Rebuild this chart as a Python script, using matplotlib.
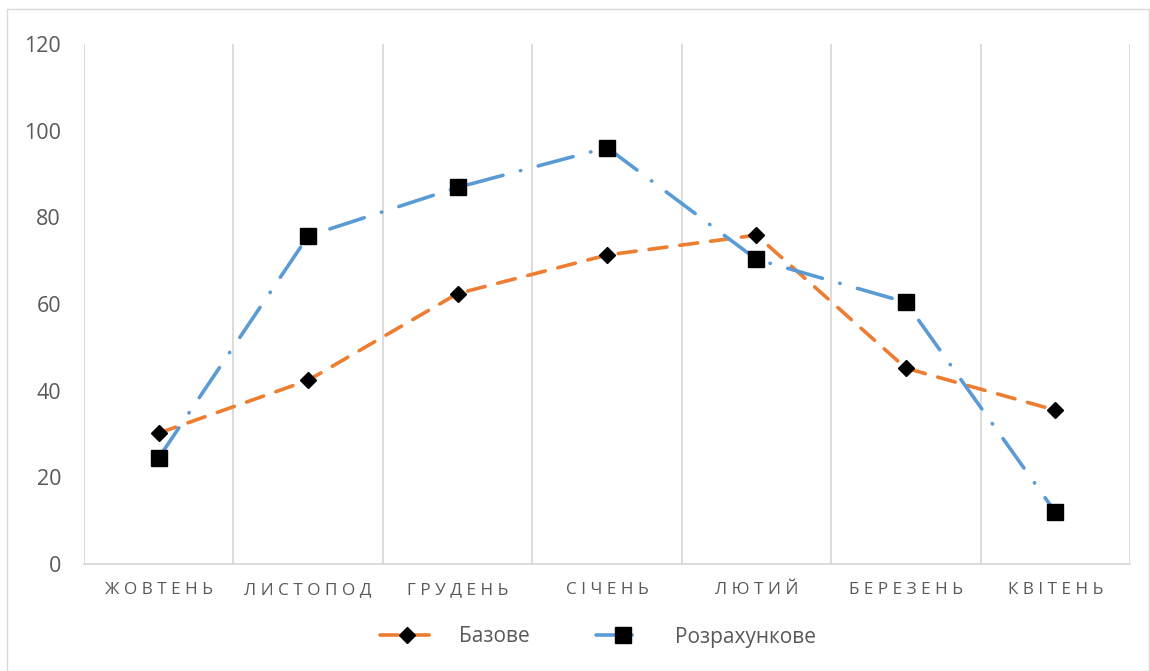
import numpy as np
import matplotlib
matplotlib.use("Agg")
import matplotlib.pyplot as plt
from matplotlib.patches import Rectangle
from matplotlib.lines import Line2D

plt.rcParams['font.family'] = ['Open Sans', 'DejaVu Sans']

months = ["ЖОВТЕНЬ", "ЛИСТОПОД", "ГРУДЕНЬ", "СІЧЕНЬ", "ЛЮТИЙ", "БЕРЕЗЕНЬ", "КВІТЕНЬ"]
bazove = [30.2, 42.4, 62.4, 71.3, 75.9, 45.2, 35.5]
rozrakh = [24.5, 75.7, 86.9, 96.1, 70.3, 60.4, 12.0]
y_ticks = [0, 20, 40, 60, 80, 100, 120]

ORANGE = "#ED7D31"
BLUE = "#5B9BD5"
TEXT = "#595959"
GRID = "#D9D9D9"

DASH = (0, (5.0, 3.6))
DASHDOT = (0, (10, 5, 0.1, 5))

fig = plt.figure(figsize=(11.5, 6.71), dpi=100)
fig.patches.append(Rectangle((7 / 1150, 0), 1 - 7 / 1150 - 1 / 1150, 1 - 9 / 671,
                             transform=fig.transFigure, fill=False,
                             edgecolor=GRID, linewidth=1.0))

ax = fig.add_axes([84 / 1150, 1 - 564 / 671, (1130 - 84) / 1150, (564 - 44) / 671])
x = np.arange(len(months))

# Orange series: dashed line with black diamonds
ax.plot(x, bazove, color=ORANGE, lw=2.6, linestyle=DASH,
        dash_capstyle='round', zorder=3)
ax.plot(x, bazove, linestyle='none', marker='D', markersize=8.5,
        color='black', zorder=5)

# Blue series: dash-dot line with black squares
ax.plot(x, rozrakh, color=BLUE, lw=2.6, linestyle=DASHDOT,
        dash_capstyle='round', zorder=4)
ax.plot(x, rozrakh, linestyle='none', marker='s', markersize=12,
        color='black', zorder=6)

ax.set_xlim(-0.5, len(months) - 0.5)
ax.set_ylim(0, 120)
ax.set_yticks(y_ticks)
ax.set_yticklabels([str(v) for v in y_ticks], fontsize=15.5, color=TEXT)
ax.set_xticks(x)
ax.set_xticklabels([" ".join(m) for m in months], fontsize=12.3, color=TEXT)
ax.tick_params(axis='both', length=0)
ax.tick_params(axis='y', pad=16.5)
ax.tick_params(axis='x', pad=13)

for b in np.arange(-0.5, len(months), 1.0):
    ax.axvline(b, color=GRID, lw=1.3, zorder=1)
for s in ['top', 'right', 'left']:
    ax.spines[s].set_visible(False)
ax.spines['bottom'].set_color(GRID)
ax.spines['bottom'].set_linewidth(1.3)

h1 = Line2D([], [], color=ORANGE, lw=2.6, linestyle=DASH,
            dash_capstyle='round', marker='D', markersize=8.5,
            markerfacecolor='black', markeredgecolor='black')
h2 = Line2D([], [], color=BLUE, lw=2.6, linestyle=DASHDOT,
            dash_capstyle='round', marker='s', markersize=12,
            markerfacecolor='black', markeredgecolor='black')
fig.legend([h1, h2], ["Базове", "Розрахункове"], loc='center',
           bbox_to_anchor=(598 / 1150, 1 - 637 / 671), ncol=2, frameon=False,
           fontsize=15, labelcolor=TEXT, handlelength=2.6,
           columnspacing=3.2, handletextpad=1.2)

fig.savefig("out.png", dpi=100)
